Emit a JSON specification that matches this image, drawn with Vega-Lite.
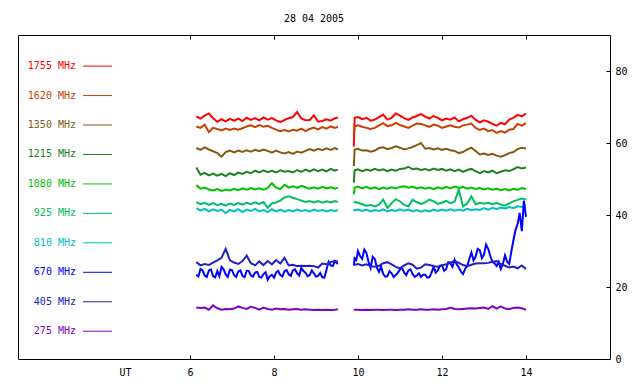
{
"$schema":"https://vega.github.io/schema/vega-lite/v6.json",
"width":592,"height":324,"autosize":"none",
"padding":{"left":18,"top":35,"right":30,"bottom":25},
"background":"white",
"title":{"text":"28 04 2005","font":"DejaVu Sans Mono","fontSize":10,"fontWeight":"normal","color":"black","offset":11,"anchor":"middle"},
"config":{"view":{"stroke":"black","strokeWidth":1},"axis":{"labelFont":"DejaVu Sans Mono","labelFontSize":10,"labelColor":"black","domain":false,"grid":false,"ticks":true,"tickColor":"black","tickWidth":1,"title":null,"zindex":1}},
"datasets":{
"series":[
{"t":6.15,"s":1,"1755":67.4,"1620":64.6,"1350":58.6,"1215":53.2,"1080":48.3,"925":43.6,"810":41.9,"670":23.4,"405":26.9,"275":14.3},
{"t":6.25,"s":1,"1755":66.8,"1620":64.2,"1350":58.1,"1215":51.2,"1080":47.3,"925":43.0,"810":41.2,"670":25.0,"405":26.0,"275":14.2},
{"t":6.35,"s":1,"1755":67.6,"1620":65.1,"1350":58.8,"1215":51.7,"1080":47.6,"925":43.4,"810":41.7,"670":23.2,"405":26.4,"275":14.3},
{"t":6.45,"s":1,"1755":68.2,"1620":63.0,"1350":58.2,"1215":51.0,"1080":47.1,"925":42.8,"810":41.0,"670":24.6,"405":26.1,"275":13.7},
{"t":6.55,"s":1,"1755":66.9,"1620":64.2,"1350":57.7,"1215":51.5,"1080":46.8,"925":43.3,"810":41.6,"670":23.0,"405":26.8,"275":14.9},
{"t":6.65,"s":1,"1755":65.9,"1620":63.9,"1350":57.2,"1215":50.9,"1080":47.2,"925":42.7,"810":41.1,"670":24.4,"405":27.4,"275":14.1},
{"t":6.75,"s":1,"1755":66.6,"1620":63.5,"1350":56.2,"1215":51.4,"1080":46.7,"925":43.1,"810":41.5,"670":25.6,"405":28.1,"275":13.7},
{"t":6.85,"s":1,"1755":66.0,"1620":64.0,"1350":57.5,"1215":50.8,"1080":47.1,"925":42.6,"810":40.5,"670":23.5,"405":30.6,"275":13.9},
{"t":6.95,"s":1,"1755":66.7,"1620":63.6,"1350":57.9,"1215":51.6,"1080":46.8,"925":43.2,"810":41.4,"670":24.8,"405":27.4,"275":13.8},
{"t":7.05,"s":1,"1755":66.2,"1620":64.0,"1350":57.4,"1215":51.1,"1080":47.3,"925":42.8,"810":41.0,"670":23.3,"405":26.8,"275":14.0},
{"t":7.15,"s":1,"1755":66.8,"1620":63.7,"1350":57.9,"1215":51.8,"1080":46.9,"925":43.3,"810":41.6,"670":24.3,"405":26.4,"275":14.6},
{"t":7.25,"s":1,"1755":66.1,"1620":64.1,"1350":57.5,"1215":51.4,"1080":47.4,"925":42.9,"810":40.8,"670":23.1,"405":27.2,"275":14.2},
{"t":7.35,"s":1,"1755":67.0,"1620":64.6,"1350":58.0,"1215":52.0,"1080":47.0,"925":43.4,"810":41.5,"670":24.5,"405":28.7,"275":13.9},
{"t":7.45,"s":1,"1755":66.4,"1620":64.9,"1350":57.6,"1215":51.6,"1080":47.5,"925":43.0,"810":41.1,"670":23.2,"405":26.6,"275":14.5},
{"t":7.55,"s":1,"1755":66.9,"1620":64.4,"1350":58.1,"1215":52.3,"1080":47.1,"925":43.5,"810":41.7,"670":24.0,"405":26.0,"275":14.2},
{"t":7.65,"s":1,"1755":66.3,"1620":65.0,"1350":57.7,"1215":51.8,"1080":47.4,"925":43.1,"810":41.0,"670":22.8,"405":27.1,"275":13.7},
{"t":7.75,"s":1,"1755":67.1,"1620":64.5,"1350":58.2,"1215":52.4,"1080":47.0,"925":43.6,"810":41.4,"670":23.6,"405":26.1,"275":14.3},
{"t":7.85,"s":1,"1755":66.5,"1620":64.8,"1350":57.8,"1215":51.9,"1080":47.5,"925":42.0,"810":40.8,"670":22.0,"405":27.2,"275":13.9},
{"t":7.95,"s":1,"1755":66.9,"1620":64.2,"1350":57.3,"1215":52.3,"1080":48.8,"925":43.2,"810":41.6,"670":23.4,"405":26.3,"275":13.7},
{"t":8.05,"s":1,"1755":66.3,"1620":63.7,"1350":57.9,"1215":51.8,"1080":47.6,"925":43.5,"810":41.0,"670":24.0,"405":27.5,"275":14.0},
{"t":8.15,"s":1,"1755":65.8,"1620":63.3,"1350":57.4,"1215":52.4,"1080":47.2,"925":44.0,"810":41.5,"670":23.3,"405":26.5,"275":13.8},
{"t":8.25,"s":1,"1755":66.4,"1620":63.6,"1350":57.1,"1215":52.0,"1080":48.4,"925":44.9,"810":40.9,"670":24.4,"405":28.1,"275":13.9},
{"t":8.35,"s":1,"1755":66.9,"1620":63.2,"1350":57.5,"1215":52.2,"1080":47.6,"925":45.2,"810":41.4,"670":23.5,"405":26.0,"275":13.7},
{"t":8.45,"s":1,"1755":67.2,"1620":63.7,"1350":57.0,"1215":51.8,"1080":48.0,"925":44.8,"810":41.0,"670":24.6,"405":26.2,"275":13.8},
{"t":8.55,"s":1,"1755":68.6,"1620":63.4,"1350":57.6,"1215":52.5,"1080":47.5,"925":44.4,"810":41.5,"670":23.8,"405":25.8,"275":13.9},
{"t":8.65,"s":1,"1755":66.8,"1620":64.0,"1350":57.3,"1215":52.0,"1080":48.1,"925":44.0,"810":41.1,"670":25.3,"405":25.9,"275":13.7},
{"t":8.75,"s":1,"1755":66.3,"1620":63.3,"1350":57.8,"1215":52.6,"1080":47.7,"925":43.6,"810":41.4,"670":24.0,"405":25.8,"275":13.8},
{"t":8.85,"s":1,"1755":66.4,"1620":63.9,"1350":58.3,"1215":52.1,"1080":47.3,"925":43.9,"810":41.0,"670":23.3,"405":25.9,"275":13.7},
{"t":8.95,"s":1,"1755":67.7,"1620":64.3,"1350":57.9,"1215":52.7,"1080":47.7,"925":43.5,"810":41.5,"670":23.8,"405":25.8,"275":13.6},
{"t":9.05,"s":1,"1755":65.9,"1620":63.8,"1350":58.4,"1215":52.2,"1080":47.3,"925":43.9,"810":41.1,"670":23.1,"405":25.4,"275":13.7},
{"t":9.15,"s":1,"1755":66.1,"1620":64.4,"1350":58.0,"1215":52.6,"1080":47.8,"925":43.4,"810":41.4,"670":22.7,"405":26.5,"275":13.6},
{"t":9.25,"s":1,"1755":66.6,"1620":64.0,"1350":58.5,"1215":52.1,"1080":47.4,"925":43.8,"810":41.0,"670":24.8,"405":26.3,"275":13.7},
{"t":9.35,"s":1,"1755":66.2,"1620":64.6,"1350":58.1,"1215":52.8,"1080":47.7,"925":43.5,"810":41.4,"670":26.0,"405":26.9,"275":13.6},
{"t":9.45,"s":1,"1755":66.9,"1620":64.2,"1350":58.6,"1215":52.3,"1080":47.3,"925":43.9,"810":41.1,"670":27.2,"405":27.3,"275":13.7},
{"t":9.52,"s":1,"1755":67.1,"1620":64.5,"1350":58.2,"1215":52.6,"1080":47.6,"925":43.6,"810":41.3,"670":26.4,"405":27.0,"275":13.8},
{"t":9.9,"s":2,"1755":59.0,"1620":62.0,"1350":53.6,"1215":49.0,"1080":45.7,"925":43.8,"810":41.6,"670":26.0,"405":26.2,"275":13.7},
{"t":9.92,"s":2,"1755":67.0,"1620":64.6,"1350":58.2,"1215":52.4,"1080":47.6,"925":43.6,"810":41.3,"670":28.0,"405":26.2,"275":13.7},
{"t":10.0,"s":2,"1755":67.2,"1620":64.9,"1350":58.4,"1215":52.7,"1080":47.9,"925":43.4,"810":41.5,"670":30.0,"405":26.4,"275":13.7},
{"t":10.1,"s":2,"1755":66.6,"1620":64.5,"1350":57.9,"1215":52.2,"1080":47.4,"925":43.0,"810":41.1,"670":27.8,"405":26.0,"275":13.6},
{"t":10.2,"s":2,"1755":67.0,"1620":64.2,"1350":58.0,"1215":52.6,"1080":47.8,"925":42.6,"810":41.5,"670":29.5,"405":26.3,"275":13.7},
{"t":10.3,"s":2,"1755":66.2,"1620":63.9,"1350":57.6,"1215":52.3,"1080":47.3,"925":42.8,"810":41.0,"670":25.3,"405":25.8,"275":13.6},
{"t":10.4,"s":2,"1755":66.5,"1620":64.2,"1350":57.9,"1215":52.8,"1080":47.7,"925":42.4,"810":41.4,"670":27.8,"405":25.6,"275":13.7},
{"t":10.5,"s":2,"1755":67.2,"1620":64.9,"1350":58.6,"1215":52.4,"1080":47.2,"925":42.9,"810":41.1,"670":24.2,"405":25.9,"275":13.7},
{"t":10.6,"s":2,"1755":67.9,"1620":65.5,"1350":58.8,"1215":52.7,"1080":47.6,"925":44.3,"810":41.6,"670":23.6,"405":26.6,"275":13.6},
{"t":10.7,"s":2,"1755":66.5,"1620":64.7,"1350":58.3,"1215":52.2,"1080":47.3,"925":42.0,"810":41.0,"670":23.0,"405":26.9,"275":13.7},
{"t":10.8,"s":2,"1755":67.0,"1620":64.9,"1350":58.6,"1215":52.6,"1080":47.7,"925":43.3,"810":41.4,"670":23.8,"405":26.3,"275":13.7},
{"t":10.9,"s":2,"1755":68.2,"1620":65.6,"1350":59.1,"1215":52.3,"1080":47.4,"925":44.4,"810":41.1,"670":23.3,"405":25.6,"275":13.6},
{"t":11.0,"s":2,"1755":67.6,"1620":65.0,"1350":58.7,"1215":52.8,"1080":47.8,"925":43.8,"810":41.6,"670":24.9,"405":25.2,"275":13.7},
{"t":11.1,"s":2,"1755":66.9,"1620":64.6,"1350":58.2,"1215":52.9,"1080":48.0,"925":42.8,"810":41.2,"670":24.0,"405":26.0,"275":13.7},
{"t":11.2,"s":2,"1755":66.4,"1620":64.2,"1350":58.5,"1215":53.4,"1080":47.6,"925":42.4,"810":41.5,"670":24.6,"405":26.6,"275":13.8},
{"t":11.3,"s":2,"1755":67.1,"1620":64.8,"1350":58.9,"1215":52.7,"1080":47.9,"925":44.2,"810":41.0,"670":23.6,"405":26.2,"275":13.7},
{"t":11.4,"s":2,"1755":67.5,"1620":65.4,"1350":59.4,"1215":52.9,"1080":47.4,"925":43.6,"810":41.4,"670":23.2,"405":25.1,"275":13.7},
{"t":11.5,"s":2,"1755":68.0,"1620":65.3,"1350":60.0,"1215":52.5,"1080":47.7,"925":43.1,"810":40.9,"670":22.8,"405":25.4,"275":13.8},
{"t":11.6,"s":2,"1755":67.3,"1620":64.9,"1350":58.4,"1215":52.8,"1080":47.3,"925":43.5,"810":41.3,"670":23.4,"405":26.3,"275":13.7},
{"t":11.7,"s":2,"1755":66.8,"1620":64.5,"1350":58.6,"1215":52.4,"1080":47.6,"925":44.3,"810":41.0,"670":22.7,"405":26.1,"275":13.7},
{"t":11.8,"s":2,"1755":67.5,"1620":65.1,"1350":58.2,"1215":52.9,"1080":47.2,"925":43.8,"810":41.5,"670":25.6,"405":25.8,"275":13.8},
{"t":11.9,"s":2,"1755":67.0,"1620":64.8,"1350":58.5,"1215":52.5,"1080":47.7,"925":43.1,"810":41.1,"670":24.6,"405":25.6,"275":13.7},
{"t":12.0,"s":2,"1755":66.3,"1620":64.2,"1350":58.1,"1215":52.8,"1080":47.3,"925":43.4,"810":41.5,"670":26.0,"405":26.0,"275":13.8},
{"t":12.1,"s":2,"1755":66.8,"1620":64.6,"1350":58.4,"1215":52.3,"1080":47.8,"925":43.9,"810":41.2,"670":25.0,"405":26.3,"275":13.9},
{"t":12.2,"s":2,"1755":66.5,"1620":64.9,"1350":58.0,"1215":52.7,"1080":47.4,"925":43.3,"810":41.6,"670":26.6,"405":26.8,"275":14.3},
{"t":12.3,"s":2,"1755":67.1,"1620":64.5,"1350":57.8,"1215":52.2,"1080":47.9,"925":43.7,"810":41.2,"670":27.6,"405":27.2,"275":13.9},
{"t":12.4,"s":2,"1755":66.0,"1620":64.3,"1350":57.2,"1215":52.6,"1080":47.5,"925":47.0,"810":41.5,"670":25.4,"405":26.7,"275":13.8},
{"t":12.5,"s":2,"1755":66.6,"1620":64.9,"1350":57.5,"1215":52.0,"1080":47.8,"925":42.4,"810":41.2,"670":23.6,"405":26.1,"275":13.9},
{"t":12.6,"s":2,"1755":67.0,"1620":65.1,"1350":58.2,"1215":52.5,"1080":47.3,"925":43.2,"810":41.7,"670":25.8,"405":25.8,"275":14.0},
{"t":12.7,"s":2,"1755":67.6,"1620":65.4,"1350":58.7,"1215":52.8,"1080":47.6,"925":45.2,"810":41.3,"670":29.6,"405":26.2,"275":14.1},
{"t":12.8,"s":2,"1755":66.4,"1620":64.2,"1350":57.8,"1215":52.2,"1080":47.2,"925":43.0,"810":41.6,"670":28.4,"405":26.5,"275":14.0},
{"t":12.9,"s":2,"1755":65.7,"1620":63.6,"1350":56.8,"1215":51.6,"1080":47.5,"925":43.4,"810":41.4,"670":30.2,"405":26.6,"275":14.2},
{"t":13.0,"s":2,"1755":66.3,"1620":64.0,"1350":57.1,"1215":52.2,"1080":47.1,"925":43.1,"810":41.9,"670":29.0,"405":26.6,"275":14.3},
{"t":13.1,"s":2,"1755":65.9,"1620":63.3,"1350":56.7,"1215":51.8,"1080":47.4,"925":43.4,"810":41.5,"670":30.6,"405":26.7,"275":13.9},
{"t":13.2,"s":2,"1755":65.3,"1620":63.6,"1350":57.0,"1215":52.3,"1080":47.0,"925":43.0,"810":42.0,"670":27.0,"405":27.0,"275":14.7},
{"t":13.3,"s":2,"1755":64.8,"1620":62.8,"1350":56.5,"1215":51.6,"1080":47.3,"925":43.3,"810":41.6,"670":25.8,"405":27.2,"275":14.0},
{"t":13.4,"s":2,"1755":65.6,"1620":63.3,"1350":56.2,"1215":52.0,"1080":46.9,"925":42.9,"810":42.1,"670":25.0,"405":26.4,"275":14.6},
{"t":13.5,"s":2,"1755":65.2,"1620":62.9,"1350":56.6,"1215":52.4,"1080":47.2,"925":42.6,"810":41.8,"670":28.8,"405":25.9,"275":14.0},
{"t":13.6,"s":2,"1755":66.5,"1620":63.7,"1350":57.2,"1215":52.2,"1080":46.8,"925":43.2,"810":42.2,"670":26.4,"405":25.4,"275":13.8},
{"t":13.7,"s":2,"1755":67.0,"1620":63.9,"1350":57.5,"1215":52.7,"1080":47.3,"925":43.8,"810":41.9,"670":33.0,"405":25.7,"275":14.2},
{"t":13.8,"s":2,"1755":67.8,"1620":65.3,"1350":58.3,"1215":53.3,"1080":47.0,"925":44.2,"810":42.4,"670":37.5,"405":25.2,"275":14.3},
{"t":13.9,"s":2,"1755":67.4,"1620":64.8,"1350":58.7,"1215":52.9,"1080":47.5,"925":44.6,"810":42.2,"670":35.5,"405":26.0,"275":14.1},
{"t":14.0,"s":2,"1755":68.2,"1620":65.5,"1350":58.5,"1215":53.2,"1080":47.2,"925":44.4,"810":42.4,"670":39.5,"405":25.0,"275":13.7},
{"t":6.2,"s":1,"670":22.9},{"t":6.3,"s":1,"670":24.6},{"t":6.4,"s":1,"670":22.8},{"t":6.5,"s":1,"670":24.9},{"t":6.6,"s":1,"670":22.7},
{"t":6.7,"s":1,"670":23.0},{"t":6.8,"s":1,"670":24.9},{"t":6.9,"s":1,"670":22.8},{"t":7.0,"s":1,"670":24.7},{"t":7.1,"s":1,"670":22.8},
{"t":7.2,"s":1,"670":24.6},{"t":7.3,"s":1,"670":22.7},{"t":7.4,"s":1,"670":24.4},{"t":7.5,"s":1,"670":22.9},{"t":7.6,"s":1,"670":24.2},
{"t":7.7,"s":1,"670":22.6},{"t":7.8,"s":1,"670":24.1},{"t":7.9,"s":1,"670":23.0},{"t":8.0,"s":1,"670":22.6},{"t":8.1,"s":1,"670":24.5},
{"t":8.2,"s":1,"670":22.9},{"t":8.3,"s":1,"670":24.7},{"t":8.4,"s":1,"670":23.1},{"t":8.5,"s":1,"670":24.9},{"t":8.6,"s":1,"670":23.2},
{"t":8.7,"s":1,"670":24.4},{"t":8.8,"s":1,"670":23.0},{"t":8.9,"s":1,"670":24.6},{"t":9.0,"s":1,"670":22.9},{"t":9.1,"s":1,"670":23.9},
{"t":9.2,"s":1,"670":22.6},{"t":9.3,"s":1,"670":27.0},{"t":9.4,"s":1,"670":25.8},
{"t":9.96,"s":2,"670":27.5},{"t":10.05,"s":2,"670":28.6},{"t":10.15,"s":2,"670":30.4},{"t":10.25,"s":2,"670":27.0},{"t":10.35,"s":2,"670":28.4},
{"t":10.45,"s":2,"670":25.4},{"t":10.55,"s":2,"670":25.6},{"t":10.65,"s":2,"670":22.9},{"t":10.75,"s":2,"670":24.4},{"t":10.85,"s":2,"670":22.8},
{"t":10.95,"s":2,"670":24.0},{"t":11.05,"s":2,"670":25.3},{"t":11.15,"s":2,"670":23.3},{"t":11.25,"s":2,"670":24.9},{"t":11.35,"s":2,"670":22.8},
{"t":11.45,"s":2,"670":23.8},{"t":11.55,"s":2,"670":23.4},{"t":11.65,"s":2,"670":22.6},{"t":11.75,"s":2,"670":24.0},{"t":11.85,"s":2,"670":24.0},
{"t":11.95,"s":2,"670":25.9},{"t":12.05,"s":2,"670":24.5},{"t":12.15,"s":2,"670":26.9},{"t":12.25,"s":2,"670":25.6},{"t":12.35,"s":2,"670":26.3},
{"t":12.45,"s":2,"670":24.3},{"t":12.55,"s":2,"670":25.0},{"t":12.65,"s":2,"670":27.8},{"t":12.75,"s":2,"670":27.4},{"t":12.85,"s":2,"670":30.6},
{"t":12.95,"s":2,"670":28.0},{"t":13.05,"s":2,"670":31.8},{"t":13.15,"s":2,"670":28.6},{"t":13.25,"s":2,"670":26.6},{"t":13.35,"s":2,"670":27.0},
{"t":13.45,"s":2,"670":26.4},{"t":13.55,"s":2,"670":27.0},{"t":13.65,"s":2,"670":29.8},{"t":13.75,"s":2,"670":35.8},{"t":13.85,"s":2,"670":40.6},
{"t":13.95,"s":2,"670":44.0}
],
"legend":[
{"f":"1755","label":"1755 MHz"},{"f":"1620","label":"1620 MHz"},{"f":"1350","label":"1350 MHz"},{"f":"1215","label":"1215 MHz"},{"f":"1080","label":"1080 MHz"},
{"f":"925","label":"925 MHz"},{"f":"810","label":"810 MHz"},{"f":"670","label":"670 MHz"},{"f":"405","label":"405 MHz"},{"f":"275","label":"275 MHz"}
]
},
"layer":[
{"data":{"name":"series"},
 "transform":[{"fold":["1755","1620","1350","1215","1080","925","810","670","405","275"],"as":["f","v"]},{"filter":"isValid(datum.v)"}],
 "mark":{"type":"line"},
 "encoding":{
  "x":{"field":"t","type":"quantitative","scale":{"domain":[1.905,16],"nice":false,"zero":false},
       "axis":{"orient":"bottom","values":[4.452,6,8,10,12,14],"labelExpr":"datum.value < 5 ? 'UT' : format(datum.value, 'd')","offset":-4,"tickSize":4,"tickOpacity":{"condition":{"test":"datum.value < 5","value":0},"value":1},"labelPadding":8}},
  "y":{"field":"v","type":"quantitative","scale":{"domain":[0,90],"nice":false,"zero":true},
       "axis":{"orient":"right","values":[0,20,40,60,80],"offset":-4,"tickSize":4,"labelPadding":5}},
  "order":{"field":"t","type":"quantitative"},
  "color":{"field":"f","type":"nominal","legend":null,
       "scale":{"domain":["1755","1620","1350","1215","1080","925","810","670","405","275"],
                "range":["#ff0000","#c84000","#825a10","#208020","#00c000","#00c060","#00c0c0","#0000ff","#2020c0","#8000c0"]}},
  "strokeWidth":{"field":"f","type":"nominal","legend":null,
       "scale":{"domain":["1755","1620","1350","1215","1080","925","810","670","405","275"],
                "range":[2,2,2,2,2,1.8,1.6,2,1.2,1.8]}},
  "detail":{"field":"s","type":"nominal"}
 }},
{"mark":{"type":"rule","color":"#666666","strokeWidth":1},
 "encoding":{"x":{"datum":4.452,"type":"quantitative","axis":{"orient":"top","values":[6,8,10,12,14],"labels":false,"offset":-4,"tickSize":4}}}},
{"data":{"name":"legend"},
 "encoding":{
  "y":{"field":"f","type":"ordinal","axis":null,
       "scale":{"type":"point","domain":["1755","1620","1350","1215","1080","925","810","670","405","275"],"padding":1.048,"align":0.528}},
  "color":{"field":"f","type":"nominal","legend":null}
 },
 "layer":[
  {"mark":{"type":"text","align":"right","baseline":"middle","font":"DejaVu Sans Mono","fontSize":10},
   "encoding":{"x":{"datum":3.286,"type":"quantitative","axis":null},"text":{"field":"label"}}},
  {"mark":{"type":"rule","strokeWidth":1},
   "encoding":{"x":{"datum":3.452,"type":"quantitative","axis":null},"x2":{"datum":4.143}}}
 ]}
],
"resolve":{"scale":{"y":"independent"},"axis":{"x":"independent"}}
}
